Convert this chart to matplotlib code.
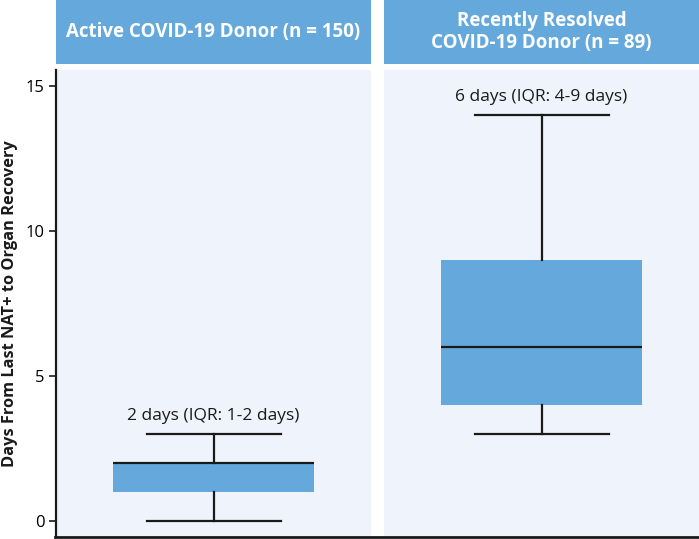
import matplotlib
matplotlib.use("Agg")
import matplotlib.pyplot as plt
from matplotlib.lines import Line2D

plt.rcParams['font.family'] = ['Open Sans', 'DejaVu Sans']

# Data
groups = ["Active COVID-19 Donor (n = 150)", "Recently Resolved\nCOVID-19 Donor (n = 89)"]
medians = [2, 6]
q1s = [1, 4]
q3s = [2, 9]
whislos = [0, 3]
whishis = [3, 14]
annotations = ["2 days (IQR: 1-2 days)", "6 days (IQR: 4-9 days)"]
yticks = [0, 5, 10, 15]
ylabel = "Days From Last NAT+ to Organ Recovery"

W, H = 699, 539
fig = plt.figure(figsize=(W / 100, H / 100), dpi=100)

box_color = "#65A9DC"
panel_bg = "#EFF4FC"

def fx(px):
    return px / W

def fy(py):
    return (H - py) / H

panel_lefts = [56, 384]
panel_w = 315
ylim = (-0.552, 15.552)

for i, left in enumerate(panel_lefts):
    # header
    hax = fig.add_axes([fx(left), fy(64), fx(panel_w), 64 / H])
    hax.set_facecolor(box_color)
    hax.set_xticks([]); hax.set_yticks([])
    for s in hax.spines.values():
        s.set_visible(False)
    hax.text(0.5, 0.5, groups[i], ha="center", va="center", color="white",
             fontsize=13.5, fontweight="bold", linespacing=1.15, transform=hax.transAxes)

    ax = fig.add_axes([fx(left), fy(537), fx(panel_w), 467 / H])
    ax.set_facecolor(panel_bg)
    ax.set_xlim(0, 1)
    ax.set_ylim(*ylim)
    stats = [dict(med=medians[i], q1=q1s[i], q3=q3s[i], whislo=whislos[i], whishi=whishis[i], fliers=[])]
    ax.bxp(stats, positions=[0.5], widths=[201 / 315], capwidths=[134 / 315],
           patch_artist=True, showfliers=False,
           boxprops=dict(facecolor=box_color, edgecolor=box_color, linewidth=0),
           medianprops=dict(color="#1a1a1a", linewidth=1.6),
           whiskerprops=dict(color="#1a1a1a", linewidth=1.6),
           capprops=dict(color="#1a1a1a", linewidth=1.6))
    ax.text(0.5, whishis[i] + 0.33, annotations[i], ha="center", va="bottom",
            fontsize=12.5, color="#1a1a1a")
    ax.set_xticks([])
    for s in ["top", "right", "bottom"]:
        ax.spines[s].set_visible(False)
    if i == 0:
        ax.set_yticks(yticks)
        ax.set_yticklabels([str(t) for t in yticks], fontsize=12)
        ax.spines["left"].set_linewidth(1.6)
        ax.spines["left"].set_color("#1a1a1a")
        ax.tick_params(axis="y", length=5, width=1.2, color="#1a1a1a", pad=3)
    else:
        ax.spines["left"].set_visible(False)
        ax.set_yticks([])

fig.text(fx(10), fy(304), ylabel, rotation=90, ha="center", va="center",
         fontsize=11.8, fontweight="bold", color="#1a1a1a")

# bottom axis line spanning both panels
fig.add_artist(Line2D([fx(55), 1.0], [fy(537), fy(537)], color="#1a1a1a", linewidth=2.0,
                      transform=fig.transFigure))

fig.savefig("out.png", dpi=100, facecolor="white")
